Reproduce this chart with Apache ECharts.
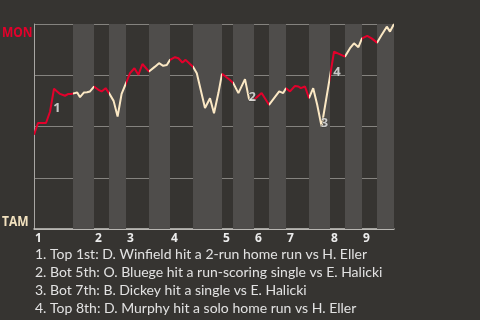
<!DOCTYPE html>
<html><head><meta charset="utf-8">
<script src="https://cdn.jsdelivr.net/npm/echarts@6/dist/echarts.min.js"></script>
<style>html,body{margin:0;padding:0;background:#363431;}#c{width:480px;height:320px;}</style>
</head><body><div id="c"></div>
<script>
// plays (game progress) and MON win probability
var playX = [0,1,3,4,5,6.5,7.75,8.6,9.4,9.75,10.8,11.5,12.5,13.25,14,15,16.1,16.9,17.9,18.75,19.9,20.9,21.9,23,24,25.1,26.1,27.1,28.75,30.25,31.25,32.3,33.2,34,35.25,36.1,37.1,37.9,39,39.75,40.7,42.75,44,45,46.1,47,49,49.75,51.1,52.75,53.8,55,56.9,58.75,61.3,62.3,63,64,65.25,66.1,66.7,67.75,68.75,69.8,70.8,71.9,74,75,77.75,79,80,81.1,82,83.3,84.4,85.75,86.9,88.2,89,90];
var winProb = [0.46,0.517,0.517,0.572,0.684,0.659,0.650,0.659,0.659,0.650,0.666,0.643,0.666,0.667,0.671,0.695,0.679,0.671,0.687,0.663,0.625,0.549,0.659,0.711,0.760,0.784,0.752,0.805,0.768,0.792,0.809,0.796,0.800,0.825,0.838,0.833,0.812,0.825,0.805,0.792,0.760,0.590,0.638,0.565,0.663,0.757,0.727,0.714,0.663,0.731,0.630,0.630,0.663,0.606,0.671,0.663,0.687,0.671,0.698,0.695,0.687,0.695,0.638,0.687,0.606,0.500,0.744,0.865,0.841,0.882,0.906,0.887,0.930,0.942,0.930,0.909,0.946,0.987,0.963,1.0];
// start of each half-inning (top 1, bot 1, top 2, ...) and end of game
var halfStarts = [0,9.75,15,18.75,23,28.75,34,39.75,47,49.75,55,58.75,63,68.75,74,77.75,82,85.75,90];
var inningLabels = ['1','2','3','4','5','6','7','8','9'];
// key events: index of play in arrays above, label
var eventPlay = [4,50,65,67];
var eventLabels = ['1','2','3','4'];
var eventTexts = [
  '1. Top 1st: D. Winfield hit a 2-run home run vs H. Eller',
  '2. Bot 5th: O. Bluege hit a run-scoring single vs E. Halicki',
  '3. Bot 7th: B. Dickey hit a single vs E. Halicki',
  '4. Top 8th: D. Murphy hit a solo home run vs H. Eller'
];
var teamTop = 'MON', teamBottom = 'TAM';

var RED = '#e3002b', CREAM = '#fbe8c4', BAND = '#4f4d4b', BG = '#363431';

var lineData = playX.map(function(x,i){return [x, winProb[i]];});
var bands = [], pieces = [], inningStarts = [];
for (var i = 0; i < halfStarts.length - 1; i++) {
  var a = halfStarts[i], b = halfStarts[i+1];
  if (i % 2 === 1) bands.push([{xAxis:a},{xAxis:b}]);
  else inningStarts.push(a);
  var p = {gte:a, color: i % 2 === 0 ? RED : CREAM};
  if (i < halfStarts.length - 2) p.lt = b; else p.lte = b;
  pieces.push(p);
}
var evData = eventPlay.map(function(k,j){
  return {value:[(playX[k-1]+playX[k])/2,(winProb[k-1]+winProb[k])/2], label:{formatter:eventLabels[j]}};
});

var chart = echarts.init(document.getElementById('c'));
chart.setOption({
  backgroundColor: BG,
  animation: false,
  grid: {left:34, top:24, width:360, height:205},
  xAxis: {
    type:'value', min:0, max:halfStarts[halfStarts.length-1],
    splitLine:{show:false},
    axisLine:{show:true, lineStyle:{color:'#c9c7c4', width:1.5}},
    axisTick:{show:false},
    axisLabel:{
      customValues: inningStarts,
      formatter:function(v){var k=inningStarts.indexOf(v);return k>=0?inningLabels[k]:'';},
      align:'left', margin:4, color:'#ececec', fontWeight:'bold', fontSize:12,
      fontFamily:'Open Sans', padding:[0,0,0,1]
    }
  },
  yAxis: {
    type:'value', min:0, max:1, interval:0.25,
    axisLine:{show:true, lineStyle:{color:'#a8a6a3'}},
    axisTick:{show:false}, axisLabel:{show:false},
    splitLine:{lineStyle:{color:'#85837f', width:1}}
  },
  visualMap: {show:false, type:'piecewise', dimension:0, seriesIndex:0, pieces:pieces},
  series: [
    {type:'line', data:lineData, symbol:'none', lineStyle:{width:2}, z:3,
     markArea:{silent:true, itemStyle:{color:BAND}, data:bands}},
    {type:'scatter', data:evData, symbolSize:1, itemStyle:{color:'rgba(0,0,0,0)'}, z:4,
     label:{show:true, position:'inside', offset:[5,8], color:'#eeeeee', fontWeight:'bold',
            fontSize:13, fontFamily:'Open Sans', textBorderColor:BG, textBorderWidth:1}}
  ],
  graphic: [
    {type:'text', x:2, y:25, scaleX:0.8, style:{text:teamTop, fill:RED, font:'bold 15px "Open Sans"', textVerticalAlign:'top'}},
    {type:'text', x:2, y:214, scaleX:0.8, style:{text:teamBottom, fill:'#f3e2bf', font:'bold 15px "Open Sans"', textVerticalAlign:'top'}},
    {type:'text', x:35, y:245, style:{text:eventTexts.join('\n'), fill:'#e2e2e2', font:'14px Lato', lineHeight:18, textVerticalAlign:'top'}}
  ]
});
</script></body></html>
